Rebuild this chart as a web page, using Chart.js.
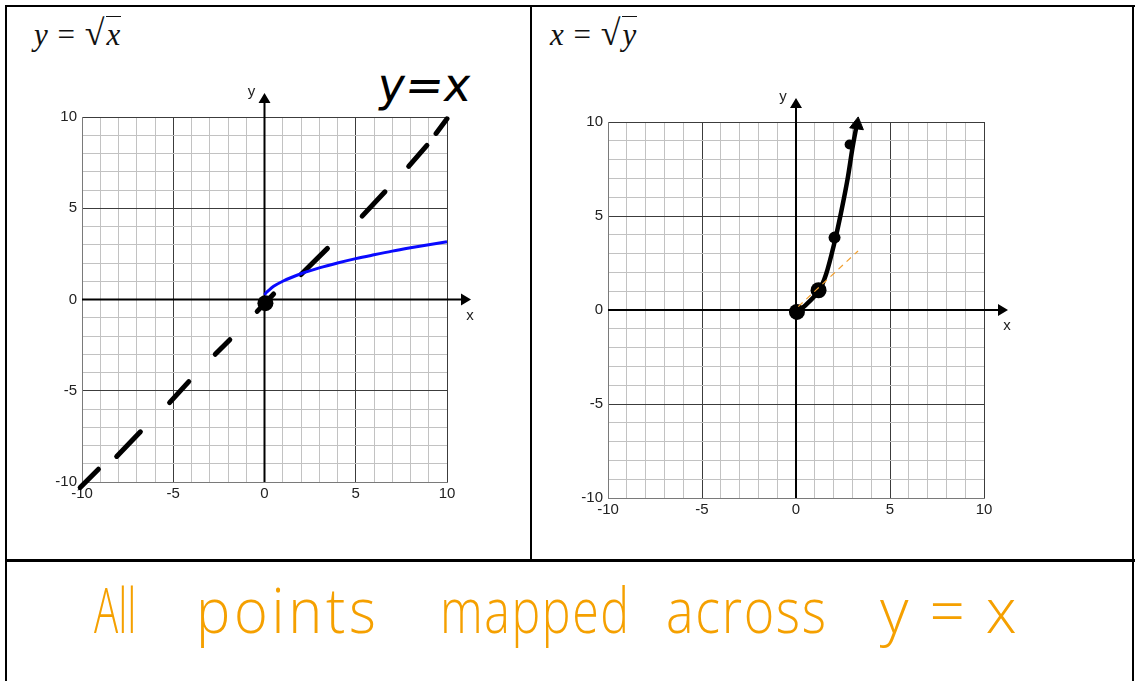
<!DOCTYPE html>
<html>
<head>
<meta charset="utf-8">
<script src="https://cdn.jsdelivr.net/npm/chart.js@4"></script>
<style>
  body { margin: 0; background: #fff; width: 1135px; height: 681px; position: relative; overflow: hidden; }
  .rule { position: absolute; background: #000; }
  .title { position: absolute; font-family: "Liberation Serif", serif; font-size: 31px; color: #111; white-space: nowrap; letter-spacing: 1px; }
  .title i { font-style: italic; }
  .title .rad { font-size: 36px; }
  .root { border-top: 1.5px solid #111; padding-left: 1px; }
  .hand { position: absolute; white-space: nowrap; transform-origin: left top; }
  .note { font-family: 'Open Sans'; font-weight: 300; font-size: 62px; color: #f5a000; top: 567px; }
  canvas { position: absolute; }
</style>
</head>
<body>
<div class="rule" style="left:5px; top:5px; width:1130px; height:2px;"></div>
<div class="rule" style="left:5px; top:5px; width:2px; height:676px;"></div>
<div class="rule" style="left:1132px; top:5px; width:2px; height:676px;"></div>
<div class="rule" style="left:530px; top:5px; width:2px; height:556px;"></div>
<div class="rule" style="left:5px; top:559px; width:1130px; height:3px;"></div>

<div class="title" style="left:34px; top:12px;"><i>y</i> = <span class="rad">√</span><span class="root"><i>x</i></span></div>
<div class="title" style="left:550px; top:12px;"><i>x</i> = <span class="rad">√</span><span class="root"><i>y</i></span></div>

<div class="hand" style="left:382px; top:58px; font-family:'DejaVu Sans'; font-size:46px; color:#000; transform:skewX(-8deg);">y=x</div>

<canvas id="leftChart" width="470" height="460" style="left:30px; top:60px;"></canvas>
<canvas id="rightChart" width="480" height="470" style="left:560px; top:65px;"></canvas>

<div class="hand note" style="left:94px; transform:scaleX(0.65);">All</div>
<div class="hand note" style="left:196px; letter-spacing:4px; transform:scaleX(0.93);">points</div>
<div class="hand note" style="left:440px; letter-spacing:2px; transform:scaleX(0.78);">mapped</div>
<div class="hand note" style="left:666px; letter-spacing:2px; transform:scaleX(0.84);">across</div>
<div class="hand note" style="left:880px; letter-spacing:21px;">y=x</div>

<script>
// axis range and labelled ticks (same for both grids)
let axisMin = -10;
let axisMax = 10;
let labelledTicks = [-10, -5, 0, 5, 10];

// left grid: y = sqrt(x) in blue
let sqrtX = [0, 0.1, 0.25, 0.5, 1, 2, 3, 4, 5, 6, 7, 8, 9, 10];
let sqrtY = [0.25, 0.38, 0.52, 0.72, 1.0, 1.41, 1.73, 2.0, 2.24, 2.45, 2.65, 2.83, 3.0, 3.16];

// left grid: hand drawn dashes along y = x (null = pen lifted)
let dashX = [-10.1, -9.1, null, -8.1, -6.8, null, -5.2, -4.15, null, -2.7, -1.9, null, -0.4, 0.5, null, 2.0, 3.45, null, 5.35, 6.6, null, 7.9, 8.9, null, 9.4, 10.0];
let dashY = [-10.3, -9.3, null, -8.6, -7.25, null, -5.65, -4.5, null, -3.0, -2.2, null, -0.65, 0.3, null, 1.37, 2.8, null, 4.57, 5.9, null, 7.3, 8.45, null, 9.1, 9.9];

// left grid: ink blob at the origin
let leftBlobX = [0.05];
let leftBlobY = [-0.2];

// right grid: hand drawn x = sqrt(y)
let inkX = [0.05, 0.5, 1.2, 1.6, 2.05, 2.4, 2.75, 3.0, 3.22];
let inkY = [-0.1, 0.25, 1.0, 1.9, 3.6, 5.2, 7.0, 8.6, 9.8];
let dotX = [0.05, 1.2, 2.05, 2.85];
let dotY = [-0.1, 1.05, 3.85, 8.8];
let dotSize = [8, 8, 6, 5];
let tipX = [3.25];
let tipY = [9.85];

// right grid: faint orange dashed line
let guideX = [0.12, 3.3];
let guideY = [0.18, 3.14];

function pts(xs, ys) {
    return xs.map((x, i) => ({ x: x, y: x === null ? null : ys[i] }));
}

// black axes through zero with arrow heads, plus x / y labels
const axesPlugin = {
    id: 'axesArrows',
    beforeDatasetsDraw(chart) {
        const ctx = chart.ctx;
        const xs = chart.scales.x;
        const ys = chart.scales.y;
        const x0 = xs.getPixelForValue(0);
        const y0 = ys.getPixelForValue(0);
        const left = xs.getPixelForValue(axisMin);
        const right = xs.getPixelForValue(axisMax) + 24;
        const bottom = ys.getPixelForValue(axisMin);
        const top = ys.getPixelForValue(axisMax) - 24;
        ctx.save();
        ctx.strokeStyle = '#000';
        ctx.fillStyle = '#000';
        ctx.lineWidth = 2;
        ctx.beginPath();
        ctx.moveTo(left, y0);
        ctx.lineTo(right - 8, y0);
        ctx.moveTo(x0, bottom);
        ctx.lineTo(x0, top + 8);
        ctx.stroke();
        ctx.beginPath();
        ctx.moveTo(right, y0);
        ctx.lineTo(right - 10, y0 - 6);
        ctx.lineTo(right - 10, y0 + 6);
        ctx.closePath();
        ctx.moveTo(x0, top);
        ctx.lineTo(x0 - 6, top + 10);
        ctx.lineTo(x0 + 6, top + 10);
        ctx.closePath();
        ctx.fill();
        ctx.font = '15px "Liberation Sans", Arial, sans-serif';
        ctx.fillStyle = '#222';
        ctx.textAlign = 'center';
        ctx.textBaseline = 'middle';
        ctx.fillText('x', right - 1, y0 + 16);
        ctx.fillText('y', x0 - 13, top - 1);
        ctx.restore();
    }
};

function gridScale(isY, fitSize) {
    return {
        type: 'linear',
        min: axisMin,
        max: axisMax,
        afterFit: function(scale) {
            if (isY) scale.width = fitSize; else scale.height = fitSize;
        },
        ticks: {
            stepSize: 1,
            autoSkip: false,
            maxRotation: 0,
            padding: isY ? 5 : 3,
            color: '#222',
            font: { family: '"Liberation Sans", Arial, sans-serif', size: 15 },
            callback: function(value) {
                return labelledTicks.includes(value) ? value : '';
            }
        },
        grid: {
            drawTicks: false,
            lineWidth: 1,
            color: function(c) {
                return c.tick.value % 5 === 0 ? '#3c3c3c' : '#c2c2c2';
            }
        },
        border: { display: true, color: '#7a7a7a', width: 1 }
    };
}

function makeGrid(canvasId, datasets, padding) {
    return new Chart(document.getElementById(canvasId), {
        type: 'scatter',
        data: { datasets: datasets },
        options: {
            responsive: false,
            animation: false,
            devicePixelRatio: 1,
            layout: { padding: padding },
            scales: {
                x: gridScale(false, 30),
                y: gridScale(true, 40)
            },
            plugins: {
                legend: { display: false },
                tooltip: { enabled: false }
            }
        },
        plugins: [axesPlugin]
    });
}

makeGrid('leftChart', [
    {
        data: pts(sqrtX, sqrtY),
        showLine: true,
        borderColor: '#0a0aff',
        borderWidth: 3,
        pointRadius: 0,
        cubicInterpolationMode: 'monotone',
        clip: false
    },
    {
        data: pts(dashX, dashY),
        showLine: true,
        spanGaps: false,
        borderColor: '#000',
        borderWidth: 5,
        borderCapStyle: 'round',
        pointRadius: 0,
        clip: false
    },
    {
        data: pts(leftBlobX, leftBlobY),
        pointRadius: 8,
        pointBackgroundColor: '#000',
        pointBorderWidth: 0,
        clip: false
    }
], { left: 12, top: 57, right: 53, bottom: 8 });

makeGrid('rightChart', [
    {
        data: pts(guideX, guideY),
        showLine: true,
        borderColor: '#f2a030',
        borderWidth: 1.2,
        borderDash: [6, 5],
        pointRadius: 0,
        clip: false
    },
    {
        data: pts(inkX, inkY),
        showLine: true,
        borderColor: '#000',
        borderWidth: 4.5,
        borderCapStyle: 'round',
        pointRadius: 0,
        tension: 0.3,
        clip: false
    },
    {
        data: pts(dotX, dotY),
        pointRadius: dotSize,
        pointBackgroundColor: '#000',
        pointBorderWidth: 0,
        clip: false
    },
    {
        data: pts(tipX, tipY),
        pointStyle: 'triangle',
        pointRadius: 8,
        rotation: 8,
        pointBackgroundColor: '#000',
        pointBorderColor: '#000',
        pointBorderWidth: 1,
        clip: false
    }
], { left: 8, top: 57, right: 56, bottom: 7 });
</script>
</body>
</html>
